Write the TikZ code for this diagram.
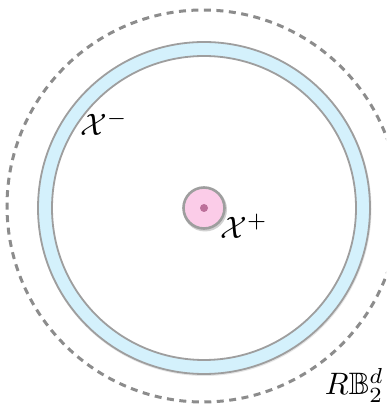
\documentclass[tikz,border=0pt]{standalone}
\usepackage{amssymb}
\begin{document}
\begin{tikzpicture}[x=1pt,y=1pt,
  outerball/.style={draw=black!45, line width=3pt, dash pattern=on 7pt off 5.5pt},
  ringedge/.style={draw=black!38, line width=1.8pt},
  lbl/.style={inner sep=0pt, scale=3.1}]
\useasboundingbox (0,0) rectangle (386,406);
\clip (0,0) rectangle (386,406);
% outer dashed ball
\draw[outerball] (203,200) circle[radius=196];
% blue ring shadow
\fill[black!10] (204.5,197) circle[radius=167];
\fill[white] (204,198) circle[radius=166];
% blue ring
\fill[cyan!17, even odd rule] (204,198) circle[radius=166] (204,198) circle[radius=152];
\draw[ringedge] (204,198) circle[radius=166];
\draw[ringedge] (204,198) circle[radius=152];
% inner small ball
\fill[black!18] (205,196.5) circle[radius=22];
\node[circle, minimum size=41pt, inner sep=0pt, fill=magenta!20, draw=black!38, line width=2.6pt] (xp) at (204,198) {};
\node[circle, minimum size=8pt, inner sep=0pt, fill=magenta!60!black!70] (dot) at (xp.center) {};
% labels
\node[lbl] (lm) at (104,283) {$\mathcal{X}^{-}$};
\node[lbl] (lp) at (244,180) {$\mathcal{X}^{+}$};
\node[lbl, anchor=south east] (lr) at (384.5,3) {$R\mathbb{B}_2^d$};
\end{tikzpicture}
\end{document}
